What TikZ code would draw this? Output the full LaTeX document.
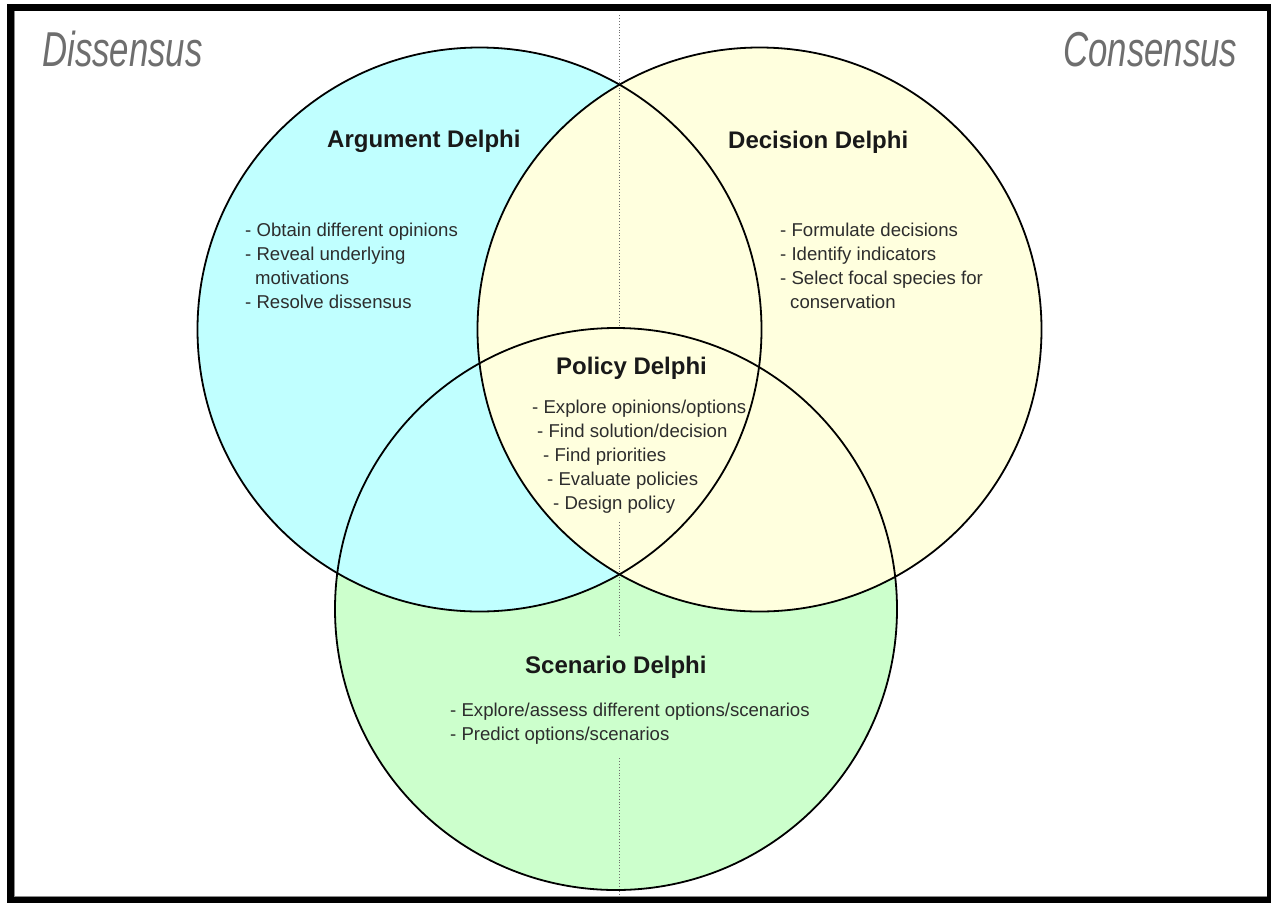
\documentclass[tikz,border=0pt]{standalone}
\usepackage{fontspec}
\usepackage{graphicx}
\setmainfont{Liberation Sans}
\definecolor{cblue}{RGB}{192,255,255}
\definecolor{cyellow}{RGB}{255,255,222}
\definecolor{cgreen}{RGB}{204,255,204}
\definecolor{cgrey}{RGB}{110,110,110}
\definecolor{ctext}{RGB}{45,45,45}
\begin{document}
\begin{tikzpicture}[x=1pt,y=-1pt,
  ring/.style={draw=black,line width=1.8pt},
  divider/.style={draw=cgrey,line width=0.9pt,dotted},
  sidelabel/.style={inner sep=0pt,anchor=base west,text=cgrey,font=\fontsize{49}{55}\selectfont\itshape},
  titlelabel/.style={inner sep=0pt,anchor=base west,text=black!90,font=\fontsize{24}{28}\selectfont\bfseries},
  itemlabel/.style={inner sep=0pt,anchor=base west,text=ctext,font=\fontsize{18.6}{24}\selectfont}]
\useasboundingbox (0,0) rectangle (1271,903);
% frame
\fill[black] (7,4) rectangle (1271,903);
\fill[white] (14,11) rectangle (1267,897);
\draw[black!45,line width=0.8pt] (14.4,11) -- (14.4,896.6) -- (1267,896.6);
% circle centres
\coordinate (cA) at (479.5,329.5);
\coordinate (cD) at (759.5,329.5);
\coordinate (cS) at (616,609);
% fills
\fill[cgreen] (cS) circle[radius=281];
\fill[cblue] (cA) circle[radius=282];
\fill[cyellow] (cD) circle[radius=282];
\begin{scope}
  \clip (cA) circle[radius=282];
  \fill[cyellow] (cD) circle[radius=282];
\end{scope}
% divider
\coordinate (d1) at (619,15);
\coordinate (d2) at (619,327);
\coordinate (d3) at (619,522);
\coordinate (d4) at (619,637);
\coordinate (d5) at (619,758);
\coordinate (d6) at (619,896);
\draw[divider] (d1) -- (d2);
\draw[divider] (d3) -- (d4);
\draw[divider] (d5) -- (d6);
% outlines
\draw[ring] (cS) circle[radius=281];
\draw[ring] (cA) circle[radius=282];
\draw[ring] (cD) circle[radius=282];
% side labels
\node[sidelabel] (dis) at (42,66) {\scalebox{0.71}[1]{Dissensus}};
\node[sidelabel] (con) at (1063,66) {\scalebox{0.71}[1]{Consensus}};
% titles
\node[titlelabel] (argT) at (327,147) {Argument Delphi};
\node[titlelabel] (decT) at (728,148) {Decision Delphi};
\node[titlelabel] (polT) at (556,374) {Policy Delphi};
\node[titlelabel] (scnT) at (525,673) {Scenario Delphi};
% argument items
\node[itemlabel] (a1) at (245,236) {- Obtain different opinions};
\node[itemlabel] (a2) at (245,260) {- Reveal underlying};
\node[itemlabel] (a3) at (255,284) {motivations};
\node[itemlabel] (a4) at (245,308) {- Resolve dissensus};
% decision items
\node[itemlabel] (b1) at (780,236) {- Formulate decisions};
\node[itemlabel] (b2) at (780,260) {- Identify indicators};
\node[itemlabel] (b3) at (780,284) {- Select focal species for};
\node[itemlabel] (b4) at (790,308) {conservation};
% policy items
\node[itemlabel] (p1) at (532,413) {- Explore opinions/options};
\node[itemlabel] (p2) at (537,437) {- Find solution/decision};
\node[itemlabel] (p3) at (543,461) {- Find priorities};
\node[itemlabel] (p4) at (547,485) {- Evaluate policies};
\node[itemlabel] (p5) at (553,509) {- Design policy};
% scenario items
\node[itemlabel] (s1) at (450,716) {- Explore/assess different options/scenarios};
\node[itemlabel] (s2) at (450,740) {- Predict options/scenarios};
\end{tikzpicture}
\end{document}
